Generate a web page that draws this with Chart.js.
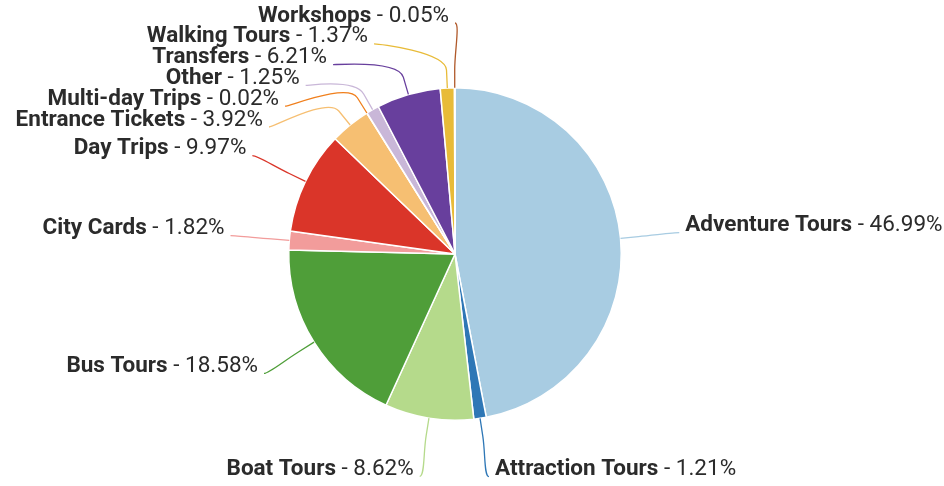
<!DOCTYPE html>
<html lang="en">
<head>
  <meta charset="UTF-8">
  <title>Bookings by Category</title>
  <style>
    body {
      margin: 0;
      background: #ffffff;
    }
    #wrap {
      width: 944px;
      height: 486px;
    }
  </style>
</head>
<body>

  <div id="wrap">
    <canvas id="categoryPie" width="944" height="486"></canvas>
  </div>

  <script src="https://cdn.jsdelivr.net/npm/chart.js"></script>

  <script>
    // Share of bookings per product category (%)
    const categories = [
      'Adventure Tours', 'Attraction Tours', 'Boat Tours', 'Bus Tours',
      'City Cards', 'Day Trips', 'Entrance Tickets', 'Multi-day Trips',
      'Other', 'Transfers', 'Walking Tours', 'Workshops'
    ];
    const shares = [46.99, 1.21, 8.62, 18.58, 1.82, 9.97, 3.92, 0.02, 1.25, 6.21, 1.37, 0.05];
    const sliceColors = [
      '#a8cce2', '#2e77b6', '#b5da8b', '#4f9e39',
      '#f29c9b', '#da3529', '#f6bf72', '#f07f1c',
      '#c9b7d8', '#683f9d', '#e8bb38', '#b0592a'
    ];

    const labelFont = 'Roboto, "Noto Sans", sans-serif';
    const labelSize = 22.5;
    const lineGap = 20.8;     // vertical step between stacked labels
    const labelReach = 59;    // how far outside the pie the labels sit
    const breakReach = 18;    // where the connector bends
    const textGap = 6;
    const lift = 7;           // connector meets the label a bit below its middle

    // push overlapping labels apart, keeping groups centred on their targets
    function spread(list, lo, hi) {
      const groups = list.map(it => ({ items: [it] }));
      const place = g => {
        const h = (g.items.length - 1) * lineGap;
        const mean = g.items.reduce((s, it) => s + it.target, 0) / g.items.length;
        g.h = h;
        g.top = Math.max(lo, Math.min(mean - h / 2, hi - h));
      };
      groups.forEach(place);
      let merged = true;
      while (merged) {
        merged = false;
        for (let i = 0; i < groups.length - 1; i++) {
          const a = groups[i], b = groups[i + 1];
          if (a.top + a.h + lineGap > b.top + 0.01) {
            a.items = a.items.concat(b.items);
            groups.splice(i + 1, 1);
            place(a);
            merged = true;
            break;
          }
        }
      }
      groups.forEach(g => g.items.forEach((it, k) => { it.y = g.top + k * lineGap; }));
    }

    const outsideLabels = {
      id: 'outsideLabels',
      afterDatasetsDraw(chart) {
        const ctx = chart.ctx;
        const meta = chart.getDatasetMeta(0);
        const items = meta.data.map((arc, i) => {
          const p = arc.getProps(['x', 'y', 'startAngle', 'endAngle', 'outerRadius']);
          const mid = (p.startAngle + p.endAngle) / 2;
          const R = p.outerRadius + labelReach;
          return {
            i, mid, cx: p.x, cy: p.y, r: p.outerRadius, R,
            left: Math.cos(mid) < 0,
            target: p.y + R * Math.sin(mid) - lift
          };
        });

        const h = chart.height;
        [true, false].forEach(side => {
          const list = items.filter(it => it.left === side).sort((a, b) => a.target - b.target);
          spread(list, 16, h - 16);
        });

        ctx.save();
        items.forEach(it => {
          const color = sliceColors[it.i];
          const ay = it.y + lift;
          const dy = ay - it.cy;
          const dx = Math.sqrt(Math.max(0, it.R * it.R - dy * dy));
          const ax = it.left ? it.cx - dx : it.cx + dx;

          const cos = Math.cos(it.mid), sin = Math.sin(it.mid);
          const touch = { x: it.cx + it.r * cos, y: it.cy + it.r * sin };
          const brk = { x: it.cx + (it.r + breakReach) * cos, y: it.cy + (it.r + breakReach) * sin };

          ctx.beginPath();
          ctx.moveTo(ax, ay);
          ctx.bezierCurveTo(ax + (it.left ? 5 : -5), ay,
            2 * brk.x - touch.x, 2 * brk.y - touch.y, brk.x, brk.y);
          ctx.lineTo(touch.x, touch.y);
          ctx.strokeStyle = color;
          ctx.lineWidth = 1.3;
          ctx.stroke();

          const name = categories[it.i];
          const value = ' - ' + shares[it.i].toFixed(2) + '%';
          ctx.textBaseline = 'middle';
          ctx.fillStyle = '#2b2b2b';
          ctx.font = 'bold ' + labelSize + 'px ' + labelFont;
          const nameW = ctx.measureText(name).width;
          ctx.font = labelSize + 'px ' + labelFont;
          const valueW = ctx.measureText(value).width;
          const x0 = it.left ? ax - textGap - nameW - valueW : ax + textGap;
          ctx.textAlign = 'left';
          ctx.font = 'bold ' + labelSize + 'px ' + labelFont;
          ctx.fillText(name, x0, it.y);
          ctx.font = labelSize + 'px ' + labelFont;
          ctx.fillText(value, x0 + nameW, it.y);
        });
        ctx.restore();
      }
    };

    const ctx = document.getElementById('categoryPie').getContext('2d');
    const pie = new Chart(ctx, {
      type: 'pie',
      data: {
        labels: categories,
        datasets: [{
          data: shares,
          backgroundColor: sliceColors,
          borderColor: '#ffffff',
          borderWidth: 1.5
        }]
      },
      options: {
        responsive: false,
        animation: false,
        layout: {
          padding: { top: 87, bottom: 65, left: 199, right: 233 }
        },
        plugins: {
          legend: { display: false },
          tooltip: { enabled: false }
        }
      },
      plugins: [outsideLabels]
    });
  </script>

</body>
</html>
